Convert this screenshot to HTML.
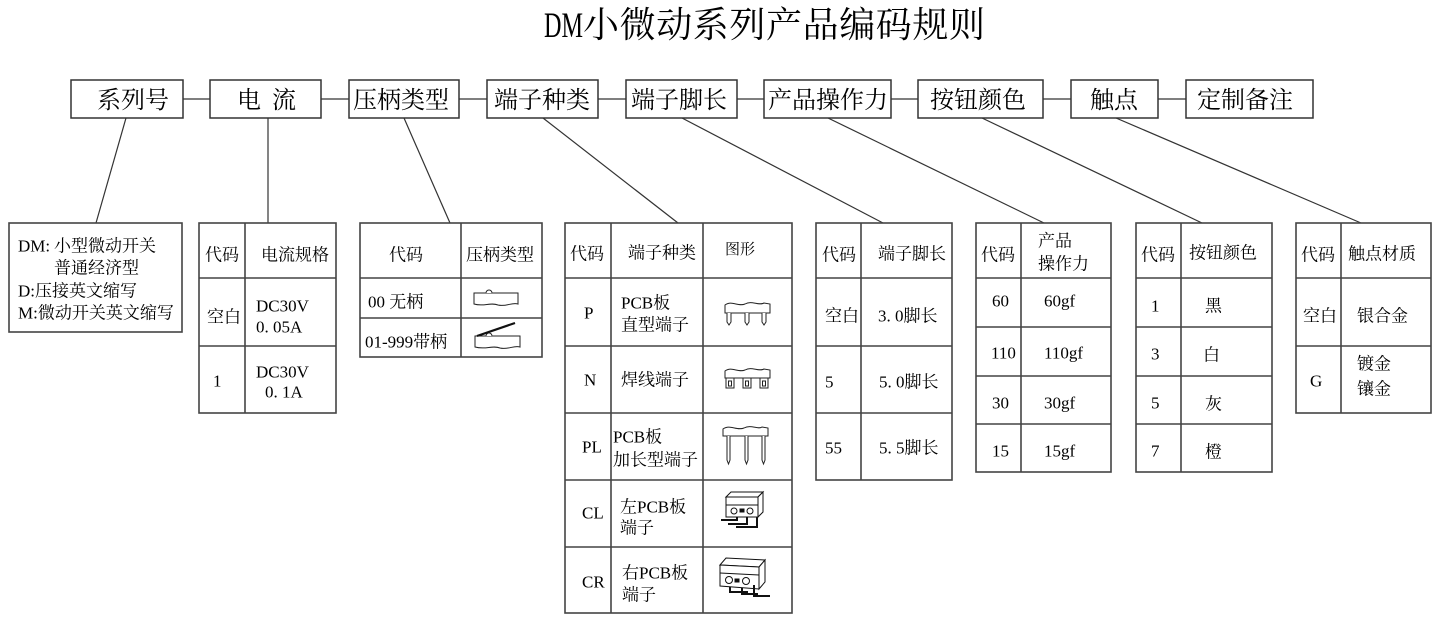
<!DOCTYPE html>
<html>
<head>
<meta charset="utf-8">
<style>
html,body{margin:0;padding:0;background:#fff;}
svg{display:block;}
text{font-family:"Liberation Serif","Noto Serif CJK SC",serif;fill:#000;}
.t{font-size:17px;dominant-baseline:central;}
.h{font-size:24px;dominant-baseline:central;}
.box{fill:#fff;stroke:#333;stroke-width:1.5;}
.ln{stroke:#333;stroke-width:1.2;fill:none;}
.tb{fill:none;stroke:#444;stroke-width:1.6;}
.ic{fill:#fff;stroke:#222;stroke-width:1;}
</style>
</head>
<body>
<svg width="1441" height="623" viewBox="0 0 1441 623" xmlns="http://www.w3.org/2000/svg">
<!-- Title -->
<text x="544" y="37" font-size="36" textLength="39" lengthAdjust="spacingAndGlyphs">DM</text>
<text x="583" y="37" font-size="36" textLength="402">小微动系列产品编码规则</text>

<!-- connectors between header boxes -->
<g class="ln">
<line x1="183" y1="99" x2="210" y2="99"/>
<line x1="321" y1="99" x2="349" y2="99"/>
<line x1="459" y1="99" x2="487" y2="99"/>
<line x1="598" y1="99" x2="626" y2="99"/>
<line x1="737" y1="99" x2="764" y2="99"/>
<line x1="891" y1="99" x2="918" y2="99"/>
<line x1="1043" y1="99" x2="1071" y2="99"/>
<line x1="1158" y1="99" x2="1186" y2="99"/>
<!-- lines to tables -->
<line x1="126" y1="118" x2="96" y2="223"/>
<line x1="268" y1="118" x2="268" y2="223"/>
<line x1="404" y1="118" x2="450" y2="223"/>
<line x1="543" y1="118" x2="678" y2="223"/>
<line x1="682" y1="118" x2="883" y2="223"/>
<line x1="828" y1="118" x2="1044" y2="223"/>
<line x1="982" y1="118" x2="1202" y2="223"/>
<line x1="1116" y1="118" x2="1361" y2="223"/>
</g>

<!-- header boxes -->
<rect class="box" x="71" y="80" width="112" height="38"/>
<rect class="box" x="210" y="80" width="111" height="38"/>
<rect class="box" x="349" y="80" width="110" height="38"/>
<rect class="box" x="487" y="80" width="111" height="38"/>
<rect class="box" x="626" y="80" width="111" height="38"/>
<rect class="box" x="764" y="80" width="127" height="38"/>
<rect class="box" x="918" y="80" width="125" height="38"/>
<rect class="box" x="1071" y="80" width="87" height="38"/>
<rect class="box" x="1186" y="80" width="127" height="38"/>

<text class="h" x="97" y="101">系列号</text>
<text class="h" x="237" y="101">电</text>
<text class="h" x="272" y="101">流</text>
<text class="h" x="353" y="101">压柄类型</text>
<text class="h" x="494" y="101">端子种类</text>
<text class="h" x="631" y="101">端子脚长</text>
<text class="h" x="768" y="101">产品操作力</text>
<text class="h" x="930" y="101">按钮颜色</text>
<text class="h" x="1090" y="101">触点</text>
<text class="h" x="1197" y="101">定制备注</text>

<!-- Table 1 -->
<rect class="tb" x="9" y="223" width="173" height="109"/>
<text class="t" x="18" y="246">DM:</text>
<text class="t" x="54" y="246">小型微动开关</text>
<text class="t" x="54" y="268">普通经济型</text>
<text class="t" x="18" y="291">D:压接英文缩写</text>
<text class="t" x="18" y="313">M:微动开关英文缩写</text>

<!-- Table 2 -->
<rect class="tb" x="199" y="223" width="137" height="190"/>
<g class="tb"><line x1="245" y1="223" x2="245" y2="413"/><line x1="199" y1="278" x2="336" y2="278"/><line x1="199" y1="346" x2="336" y2="346"/></g>
<text class="t" x="205" y="255">代码</text>
<text class="t" x="261" y="255">电流规格</text>
<text class="t" x="207" y="317">空白</text>
<text class="t" x="256" y="306">DC30V</text>
<text class="t" x="256" y="327">0. 05A</text>
<text class="t" x="213" y="381">1</text>
<text class="t" x="256" y="372">DC30V</text>
<text class="t" x="265" y="392">0. 1A</text>

<!-- Table 3 -->
<rect class="tb" x="360" y="223" width="182" height="134"/>
<g class="tb"><line x1="461" y1="223" x2="461" y2="357"/><line x1="360" y1="278" x2="542" y2="278"/><line x1="360" y1="318" x2="542" y2="318"/></g>
<text class="t" x="389" y="255">代码</text>
<text class="t" x="466" y="255">压柄类型</text>
<text class="t" x="368" y="302">00 无柄</text>
<text class="t" x="365" y="342">01-999带柄</text>
<path class="ic" d="M474,293 H518 V304 C512,302 506,307 498,305 C490,302 484,307 474,304 Z"/>
<path class="ic" d="M486,293 A3,3 0 0 1 492,293"/>
<path class="ic" d="M475,336 H520 V347 C514,345 508,350 500,348 C492,345 486,350 475,347 Z"/>
<path class="ic" d="M486,336 A3,3 0 0 1 492,336"/>
<line x1="477" y1="336" x2="515" y2="323" stroke="#111" stroke-width="2.2"/>

<!-- Table 4 -->
<rect class="tb" x="565" y="223" width="227" height="390"/>
<g class="tb">
<line x1="611" y1="223" x2="611" y2="613"/><line x1="703" y1="223" x2="703" y2="613"/>
<line x1="565" y1="278" x2="792" y2="278"/><line x1="565" y1="346" x2="792" y2="346"/>
<line x1="565" y1="413" x2="792" y2="413"/><line x1="565" y1="480" x2="792" y2="480"/>
<line x1="565" y1="547" x2="792" y2="547"/>
</g>
<text class="t" x="570" y="254">代码</text>
<text class="t" x="628" y="253">端子种类</text>
<text class="t" x="725" y="250" style="font-size:15px">图形</text>
<text class="t" x="584" y="313">P</text>
<text class="t" x="621" y="303">PCB板</text>
<text class="t" x="621" y="325">直型端子</text>
<text class="t" x="584" y="380">N</text>
<text class="t" x="621" y="380">焊线端子</text>
<text class="t" x="582" y="447">PL</text>
<text class="t" x="613" y="437">PCB板</text>
<text class="t" x="613" y="460">加长型端子</text>
<text class="t" x="582" y="513">CL</text>
<text class="t" x="620" y="507">左PCB板</text>
<text class="t" x="620" y="528">端子</text>
<text class="t" x="582" y="582">CR</text>
<text class="t" x="622" y="573">右PCB板</text>
<text class="t" x="622" y="595">端子</text>

<!-- P icon -->
<path class="ic" d="M725,313 V305 C732,300 738,307 745,304 C752,300 758,306 764,303 L770,304 V313 Z"/>
<path class="ic" d="M727,313 V322 L729,325 L731,322 V313 M745,313 V322 L747,325 L749,322 V313 M762,313 V322 L764,325 L766,322 V313"/>
<!-- N icon -->
<path class="ic" d="M725,378 V371 C732,366 738,373 745,370 C752,366 758,372 764,369 L770,370 V378 Z"/>
<rect class="ic" x="726" y="378" width="8" height="10"/><rect class="ic" x="728.5" y="381" width="3" height="5"/>
<rect class="ic" x="743" y="378" width="8" height="10"/><rect class="ic" x="745.5" y="381" width="3" height="5"/>
<rect class="ic" x="760" y="378" width="8" height="10"/><rect class="ic" x="762.5" y="381" width="3" height="5"/>
<!-- PL icon -->
<path class="ic" d="M723,436 V429 C730,424 737,431 744,428 C751,424 758,430 762,427 L768,428 V436 Z"/>
<path class="ic" d="M727,436 V460 L728.5,464 L730,460 V436 M745,436 V460 L746.5,464 L748,460 V436 M762,436 V460 L763.5,464 L765,460 V436"/>
<!-- CL icon -->
<g stroke="#111" stroke-width="1" fill="#fff">
<path d="M726,497 L731,492 L763,492 L758,497 Z"/>
<path d="M758,497 L763,492 L763,512 L758,517 Z"/>
<rect x="726" y="497" width="32" height="20"/>
<line x1="726" y1="505" x2="758" y2="505"/>
<circle cx="734" cy="511" r="3"/><circle cx="750" cy="511" r="3"/>
<rect x="740" y="509" width="4" height="3" fill="#111"/>
</g>
<g stroke="#111" stroke-width="2" fill="none">
<path d="M737,517 V520 H721"/><path d="M747,517 V524 H728"/><path d="M757,517 V527 H736"/>
</g>
<!-- CR icon -->
<g stroke="#111" stroke-width="1" fill="#fff">
<path d="M720,565 L726,558 L765,560 L759,567 Z"/>
<path d="M759,567 L765,560 L765,582 L759,589 Z"/>
<path d="M720,565 L759,567 L759,589 L720,586 Z"/>
<line x1="720" y1="573" x2="759" y2="575"/>
<circle cx="729" cy="580" r="3.5"/><circle cx="746" cy="581" r="3.5"/>
<rect x="735" y="579" width="4" height="3" fill="#111"/>
</g>
<g stroke="#111" stroke-width="2" fill="none">
<path d="M730,587 V592 H748"/><path d="M742,588 V594 H758"/><path d="M754,589 V585 M754,589 V596 H770"/>
</g>

<!-- Table 5 -->
<rect class="tb" x="816" y="223" width="136" height="257"/>
<g class="tb"><line x1="861" y1="223" x2="861" y2="480"/><line x1="816" y1="278" x2="952" y2="278"/><line x1="816" y1="346" x2="952" y2="346"/><line x1="816" y1="413" x2="952" y2="413"/></g>
<text class="t" x="822" y="255">代码</text>
<text class="t" x="878" y="254">端子脚长</text>
<text class="t" x="825" y="316">空白</text>
<text class="t" x="878" y="316">3. 0脚长</text>
<text class="t" x="825" y="382">5</text>
<text class="t" x="879" y="382">5. 0脚长</text>
<text class="t" x="825" y="448">55</text>
<text class="t" x="879" y="448">5. 5脚长</text>

<!-- Table 6 -->
<rect class="tb" x="976" y="223" width="135" height="249"/>
<g class="tb"><line x1="1021" y1="223" x2="1021" y2="472"/><line x1="976" y1="278" x2="1111" y2="278"/><line x1="976" y1="327" x2="1111" y2="327"/><line x1="976" y1="376" x2="1111" y2="376"/><line x1="976" y1="424" x2="1111" y2="424"/></g>
<text class="t" x="981" y="255">代码</text>
<text class="t" x="1038" y="241">产品</text>
<text class="t" x="1038" y="264">操作力</text>
<text class="t" x="992" y="301">60</text>
<text class="t" x="1044" y="301">60gf</text>
<text class="t" x="991" y="353">110</text>
<text class="t" x="1044" y="353">110gf</text>
<text class="t" x="992" y="403">30</text>
<text class="t" x="1044" y="403">30gf</text>
<text class="t" x="992" y="451">15</text>
<text class="t" x="1044" y="451">15gf</text>

<!-- Table 7 -->
<rect class="tb" x="1136" y="223" width="136" height="249"/>
<g class="tb"><line x1="1181" y1="223" x2="1181" y2="472"/><line x1="1136" y1="278" x2="1272" y2="278"/><line x1="1136" y1="327" x2="1272" y2="327"/><line x1="1136" y1="376" x2="1272" y2="376"/><line x1="1136" y1="424" x2="1272" y2="424"/></g>
<text class="t" x="1141" y="255">代码</text>
<text class="t" x="1189" y="253">按钮颜色</text>
<text class="t" x="1151" y="306">1</text>
<text class="t" x="1205" y="306">黑</text>
<text class="t" x="1151" y="354">3</text>
<text class="t" x="1203" y="355">白</text>
<text class="t" x="1151" y="403">5</text>
<text class="t" x="1205" y="404">灰</text>
<text class="t" x="1151" y="451">7</text>
<text class="t" x="1205" y="452">橙</text>

<!-- Table 8 -->
<rect class="tb" x="1296" y="223" width="135" height="190"/>
<g class="tb"><line x1="1341" y1="223" x2="1341" y2="413"/><line x1="1296" y1="278" x2="1431" y2="278"/><line x1="1296" y1="346" x2="1431" y2="346"/></g>
<text class="t" x="1301" y="255">代码</text>
<text class="t" x="1348" y="254">触点材质</text>
<text class="t" x="1303" y="316">空白</text>
<text class="t" x="1357" y="316">银合金</text>
<text class="t" x="1310" y="381">G</text>
<text class="t" x="1357" y="364">镀金</text>
<text class="t" x="1357" y="389">镶金</text>
</svg>
</body>
</html>
